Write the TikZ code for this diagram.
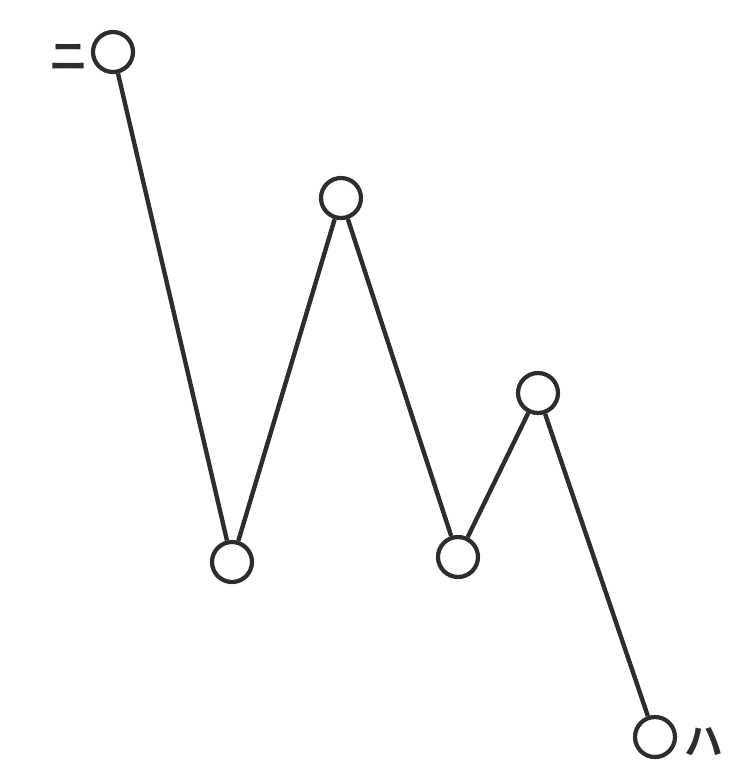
\documentclass[tikz,border=0pt]{standalone}
\usepackage{fontspec}
\usepackage{xcolor}
\usetikzlibrary{positioning}
\newfontfamily\jpfont{Noto Sans CJK JP Bold}
\definecolor{inkgray}{RGB}{45,45,45}

\begin{document}
\begin{tikzpicture}[
	vert/.style={draw=inkgray, circle, line width=2.4pt, fill=white, minimum size=0.8cm, inner sep=0pt},
	edge/.style={draw=inkgray, line width=2.5pt},
	lbl/.style={text=inkgray, font=\jpfont\fontsize{22}{22}\selectfont, inner sep=0pt}]
	
	\useasboundingbox (0,0) rectangle (15,-15.66);
	
	% ---- vertices ----
	\node[vert] (A) at (2.26,-1.04) {};
	\node[vert] (B) at (4.64,-11.24) {};
	\node[vert] (C) at (6.82,-3.96) {};
	\node[vert] (D) at (9.16,-11.14) {};
	\node[vert] (E) at (10.76,-7.86) {};
	\node[vert] (F) at (13.10,-14.74) {};
	
	% ---- labels ----
	\node[lbl, left=0.05cm of A, yshift=-0.1cm] (lA) {ニ};
	\node[lbl, right=0.15cm of F, yshift=-0.1cm] (lF) {ハ};
	
	% ---- zigzag ----
	\draw[edge] (A) -- (B);
	\draw[edge] (B) -- (C);
	\draw[edge] (C) -- (D);
	\draw[edge] (D) -- (E);
	\draw[edge] (E) -- (F);
	
\end{tikzpicture}
\end{document}
